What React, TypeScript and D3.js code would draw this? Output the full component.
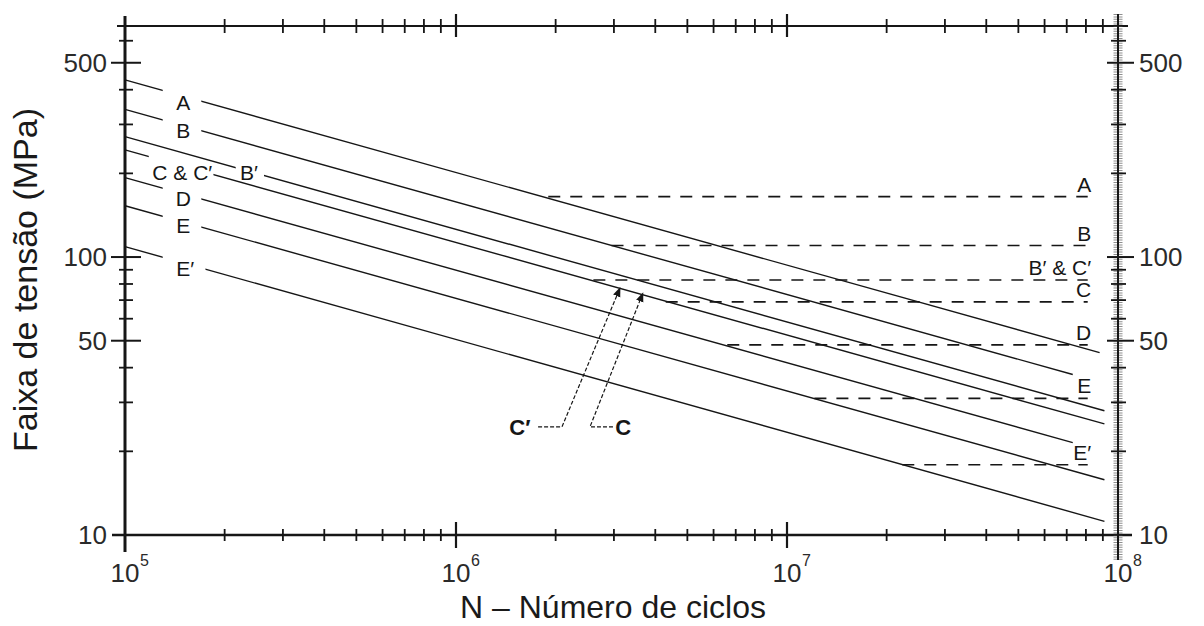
import React from "react";
import * as d3 from "d3";

const WIDTH = 1204;
const HEIGHT = 626;

// S–N lines: stress range (MPa) at 1e5 cycles and at the end of each drawn line
const curveNames = ["A", "B", "B′", "C & C′", "D", "E", "E′"];
const curveStartStress = [434, 340, 271, 243, 193, 153, 109];
const curveEndCycles = [8.8e7, 7.3e7, 9.1e7, 9.1e7, 7.3e7, 9.1e7, 9.1e7];
const curveEndStress = [45.3, 37.8, 28.0, 25.1, 21.5, 15.8, 11.2];

// each curve is interrupted where its name is written (cycles)
const curveGapFrom = [1.3e5, 1.3e5, 2.16e5, 1.18e5, 1.3e5, 1.3e5, 1.3e5];
const curveGapTo = [1.7e5, 1.7e5, 2.63e5, 1.85e5, 1.7e5, 1.7e5, 1.75e5];
const curveLabelCycles = [1.5e5, 1.5e5, 2.37e5, 1.49e5, 1.5e5, 1.5e5, 1.52e5];
const curveLabelStress = [361, 286, 202, 202, 163, 130, 91.3];

// constant-amplitude fatigue thresholds (dashed)
const thresholdNames = ["A", "B", "B′ & C′", "C", "D", "E", "E′"];
const thresholdStress = [165, 110, 82.7, 69, 48.3, 31, 17.9];
const thresholdStartCycles = [1.9e6, 2.95e6, 2.6e6, 4.3e6, 6.6e6, 1.21e7, 2.23e7];
const thresholdEndCycles = 8.1e7;
const thresholdLabelCycles = 8.3e7;

// axis ticks
const stressMajorTicks = [10, 50, 100, 500];
const stressMinorTicks = [20, 30, 40, 60, 70, 80, 90, 200, 300, 400, 600];
const cycleExponents = [5, 6, 7, 8];

// callouts pointing at the C and C′ threshold knees
const calloutNames = ["C′", "C"];
const calloutLabelCycles = [1.56e6, 3.2e6];
const calloutLabelStress = 24.5;
const calloutPaths: [number, number][][] = [
  [[1.77e6, 24.5], [2.09e6, 24.5], [3.13e6, 77.4]],
  [[2.98e6, 24.5], [2.54e6, 24.5], [3.67e6, 74.2]],
];

const INK = "#161616";

export default function App() {
  const x = d3.scaleLog().domain([1e5, 1e8]).range([125, 1118]);
  const y = d3.scaleLog().domain([10, 678]).range([535, 26]);
  const line = d3
    .line<[number, number]>()
    .x((d) => x(d[0]))
    .y((d) => y(d[1]));

  const xL = x(1e5);
  const xR = x(1e8);
  const yB = y(10);
  const yT = y(678);

  const cycleTicks = x.ticks().filter((v) => v > 1e5 && v < 1e8);
  const isDecade = (v: number) => Math.abs(Math.log10(v) - Math.round(Math.log10(v))) < 1e-9;

  return (
    <svg
      width={WIDTH}
      height={HEIGHT}
      style={{ position: "absolute", left: 0, top: 0, background: "#fff" }}
      fontFamily="'Liberation Sans', Arial, Helvetica, sans-serif"
    >
      <defs>
        {curveNames.map((n, i) => (
          <clipPath id={`gap-${i}`} key={n}>
            <rect x={0} y={0} width={x(curveGapFrom[i])} height={HEIGHT} />
            <rect x={x(curveGapTo[i])} y={0} width={WIDTH - x(curveGapTo[i])} height={HEIGHT} />
          </clipPath>
        ))}
        <marker id="arrow" viewBox="0 0 10 10" refX="9" refY="5" markerWidth="8" markerHeight="8" orient="auto">
          <path d="M0,1 L10,5 L0,9 Z" fill={INK} />
        </marker>
      </defs>

      {/* frame: left, top, bottom and right axes */}
      <line x1={xL} x2={xL} y1={16} y2={552} stroke={INK} strokeWidth={3} />
      <line x1={117} x2={1128} y1={yT} y2={yT} stroke={INK} strokeWidth={2} />
      <line x1={112} x2={1132} y1={yB} y2={yB} stroke={INK} strokeWidth={2.5} />
      <line x1={xR} x2={xR} y1={14} y2={560} stroke="#444" strokeWidth={9} strokeDasharray="1 1.4" opacity={0.6} />
      <line x1={xR} x2={xR} y1={14} y2={560} stroke={INK} strokeWidth={2} />

      {/* cycle ticks on bottom and top */}
      {cycleTicks.map((v) => {
        const major = isDecade(v);
        const h = major ? 13 : 6;
        return (
          <g key={`xt-${v}`} stroke={INK} strokeWidth={major ? 2.2 : 1.8}>
            <line x1={x(v)} x2={x(v)} y1={yB - h} y2={yB + h} />
            <line x1={x(v)} x2={x(v)} y1={yT - (major ? 12 : 7)} y2={yT + (major ? 11 : 7)} />
          </g>
        );
      })}

      {/* stress ticks on left and right */}
      {stressMinorTicks.map((v) => (
        <g key={`ys-${v}`} stroke={INK} strokeWidth={1.8}>
          <line x1={119} x2={133} y1={y(v)} y2={y(v)} />
          <line x1={xR - 7} x2={xR + 8} y1={y(v)} y2={y(v)} />
        </g>
      ))}
      {stressMajorTicks
        .filter((v) => v > 10)
        .map((v) => (
          <g key={`yM-${v}`} stroke={INK} strokeWidth={2}>
            <line x1={111} x2={141} y1={y(v)} y2={y(v)} />
            <line x1={xR - 11} x2={xR + 16} y1={y(v)} y2={y(v)} />
          </g>
        ))}

      {/* stress tick labels */}
      {stressMajorTicks.map((v) => (
        <g key={`yl-${v}`} fill="#2a2a2a">
          <text x={107} y={y(v)} dy="0.36em" textAnchor="end" fontSize={26}>
            {v}
          </text>
          <text x={1139} y={y(v)} dy="0.36em" textAnchor="start" fontSize={26}>
            {v}
          </text>
        </g>
      ))}

      {/* cycle tick labels 10^n */}
      {cycleExponents.map((e) => {
        const cx = x(Math.pow(10, e));
        return (
          <g key={`xl-${e}`} fill="#2a2a2a">
            <text x={cx} y={582} textAnchor="middle" fontSize={26}>
              10
            </text>
            <text x={cx + 15} y={566} textAnchor="start" fontSize={16}>
              {e}
            </text>
          </g>
        );
      })}

      {/* threshold dashed lines */}
      {thresholdNames.map((n, i) => (
        <path
          key={`thr-${n}`}
          d={line([
            [thresholdStartCycles[i], thresholdStress[i]],
            [thresholdEndCycles, thresholdStress[i]],
          ]) as string}
          fill="none"
          stroke={INK}
          strokeWidth={1.6}
          strokeDasharray="12 10"
        />
      ))}

      {/* sloped S–N lines */}
      {curveNames.map((n, i) => (
        <path
          key={`curve-${n}`}
          d={line([
            [1e5, curveStartStress[i]],
            [curveEndCycles[i], curveEndStress[i]],
          ]) as string}
          fill="none"
          stroke={INK}
          strokeWidth={1.4}
          clipPath={`url(#gap-${i})`}
        />
      ))}

      {/* curve names on the left */}
      {curveNames.map((n, i) => (
        <text
          key={`cl-${n}`}
          x={x(curveLabelCycles[i])}
          y={y(curveLabelStress[i])}
          dy="0.36em"
          textAnchor="middle"
          fontSize={21}
          fill={INK}
        >
          {n}
        </text>
      ))}

      {/* threshold names on the right */}
      {thresholdNames.map((n, i) => (
        <text
          key={`tl-${n}`}
          x={x(thresholdLabelCycles)}
          y={y(thresholdStress[i]) - 5}
          textAnchor="end"
          fontSize={21}
          fill={INK}
        >
          {n}
        </text>
      ))}

      {/* callouts */}
      {calloutNames.map((n, i) => (
        <g key={`co-${n}`}>
          <path
            d={line(calloutPaths[i]) as string}
            fill="none"
            stroke={INK}
            strokeWidth={1.2}
            strokeDasharray="4 2"
            markerEnd="url(#arrow)"
          />
          <text
            x={x(calloutLabelCycles[i])}
            y={y(calloutLabelStress)}
            dy="0.36em"
            textAnchor="middle"
            fontSize={22}
            fontWeight="bold"
            fill={INK}
          >
            {n}
          </text>
        </g>
      ))}

      {/* axis titles */}
      <text x={613} y={618} textAnchor="middle" fontSize={32} fill="#1a1a1a">
        N – Número de ciclos
      </text>
      <text transform="translate(37,280) rotate(-90)" textAnchor="middle" fontSize={34} fill="#1a1a1a">
        Faixa de tensão (MPa)
      </text>
    </svg>
  );
}
